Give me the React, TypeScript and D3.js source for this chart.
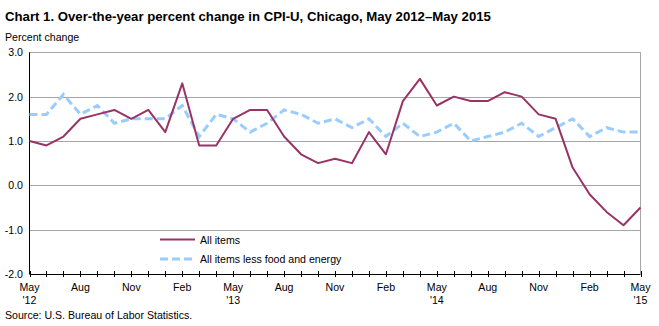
import React from "react";
import * as d3 from "d3";

const months = [
  "May '12","Jun","Jul","Aug","Sep","Oct","Nov","Dec","Jan '13","Feb","Mar","Apr",
  "May '13","Jun","Jul","Aug","Sep","Oct","Nov","Dec","Jan '14","Feb","Mar","Apr",
  "May '14","Jun","Jul","Aug","Sep","Oct","Nov","Dec","Jan '15","Feb","Mar","Apr","May '15",
];
const allItems = [
  1.0, 0.9, 1.1, 1.5, 1.6, 1.7, 1.5, 1.7, 1.2, 2.3, 0.9, 0.9,
  1.5, 1.7, 1.7, 1.1, 0.7, 0.5, 0.6, 0.5, 1.2, 0.7, 1.9, 2.4,
  1.8, 2.0, 1.9, 1.9, 2.1, 2.0, 1.6, 1.5, 0.4, -0.2, -0.6, -0.9, -0.5,
];
const core = [
  1.6, 1.6, 2.05, 1.6, 1.8, 1.4, 1.5, 1.5, 1.5, 1.8, 1.1, 1.6,
  1.5, 1.2, 1.4, 1.7, 1.6, 1.4, 1.5, 1.3, 1.5, 1.1, 1.4, 1.1,
  1.2, 1.4, 1.0, 1.1, 1.2, 1.4, 1.1, 1.3, 1.5, 1.1, 1.3, 1.2, 1.2,
];
const yTicks = [3, 2, 1, 0, -1, -2];
const xLabelTop = ["May", "Aug", "Nov", "Feb", "May", "Aug", "Nov", "Feb", "May", "Aug", "Nov", "Feb", "May"];
const xLabelBottom = ["'12", "", "", "", "'13", "", "", "", "'14", "", "", "", "'15"];
const seriesNames = ["All items", "All items less food and energy"];

export default function App() {
  const W = 659, H = 326;
  const left = 29.5, right = 640.5, top = 52.3, bottom = 274;
  const x = d3.scaleLinear().domain([0, months.length - 1]).range([left, right]);
  const y = d3.scaleLinear().domain([-2, 3]).range([bottom, top]);
  const line = d3.line<number>().x((_, i) => x(i)).y((d) => y(d));
  const font = "Arial, 'Liberation Sans', sans-serif";
  const fs = 10.6;

  return (
    <svg width={W} height={H} style={{ position: "absolute", left: 0, top: 0, background: "#fff" }}
      fontFamily={font}>
      <text x={5} y={21} fontSize={13.2} fontWeight="bold" fill="#000">
        Chart 1. Over-the-year percent change in CPI-U, Chicago, May 2012–May 2015
      </text>
      <text x={5} y={41} fontSize={fs} fill="#000">Percent change</text>

      {yTicks.map((t) => (
        <g key={t}>
          {t > -2 && (
            <line x1={left} x2={right} y1={Math.round(y(t)) + 0.5} y2={Math.round(y(t)) + 0.5}
              stroke="#a6a6a6" strokeWidth={1} />
          )}
          <text x={23} y={y(t) + 4} fontSize={fs} textAnchor="end" fill="#000">
            {t.toFixed(1)}
          </text>
        </g>
      ))}
      <line x1={right} x2={right} y1={y(3)} y2={bottom} stroke="#a6a6a6" strokeWidth={1} />
      <line x1={left} x2={left} y1={y(3)} y2={bottom} stroke="#000" strokeWidth={1} />
      <line x1={left} x2={right} y1={Math.round(bottom) + 0.5} y2={Math.round(bottom) + 0.5} stroke="#000" strokeWidth={1} />
      {months.map((m, i) => (
        <line key={m + i} x1={Math.round(x(i)) + 0.5} x2={Math.round(x(i)) + 0.5}
          y1={bottom - 3} y2={bottom + 3} stroke="#000" strokeWidth={1} />
      ))}
      {xLabelTop.map((lab, k) => (
        <g key={k}>
          <text x={x(k * 3)} y={291} fontSize={fs} textAnchor="middle" fill="#000">{lab}</text>
          {xLabelBottom[k] && (
            <text x={x(k * 3)} y={304} fontSize={fs} textAnchor="middle" fill="#000">{xLabelBottom[k]}</text>
          )}
        </g>
      ))}

      <path d={line(core) || ""} fill="none" stroke="#99ccff" strokeWidth={3} strokeDasharray="8,4" />
      <path d={line(allItems) || ""} fill="none" stroke="#993366" strokeWidth={2} strokeLinejoin="round" />

      <line x1={160} x2={195} y1={239.5} y2={239.5} stroke="#993366" strokeWidth={2} />
      <text x={200} y={243.5} fontSize={fs} fill="#000">{seriesNames[0]}</text>
      <line x1={160} x2={195} y1={259} y2={259} stroke="#99ccff" strokeWidth={3} strokeDasharray="8,4" />
      <text x={200} y={263} fontSize={fs} fill="#000">{seriesNames[1]}</text>

      <text x={5} y={319} fontSize={fs} fill="#000">Source: U.S. Bureau of Labor Statistics.</text>
    </svg>
  );
}
